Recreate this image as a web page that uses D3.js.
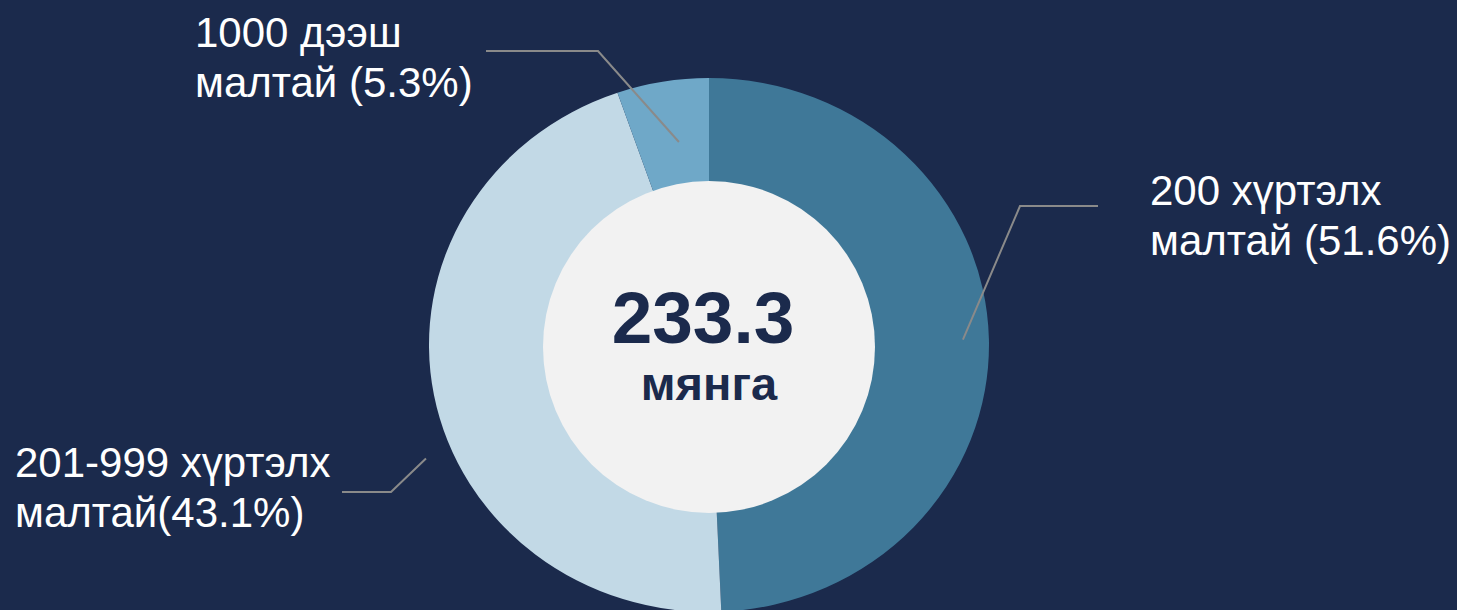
<!DOCTYPE html>
<html>
<head>
<meta charset="utf-8">
<script src="https://cdn.jsdelivr.net/npm/d3@7"></script>
<style>
  html, body { margin: 0; padding: 0; background: #1b2a4c; overflow: hidden; }
  svg { display: block; font-family: "Liberation Sans", Arial, sans-serif; }
</style>
</head>
<body>
<div id="chart"></div>
<script>
const categories = ["200 хүртэлх", "201-999 хүртэлх", "1000 дээш"];
const shares = [49.3, 45.4, 5.3];
const labelLine1 = ["200 хүртэлх", "201-999 хүртэлх", "1000 дээш"];
const labelLine2 = ["малтай (51.6%)", "малтай(43.1%)", "малтай (5.3%)"];
const totalValue = "233.3";
const totalUnit = "мянга";

const colors = ["#3f7898", "#c2d9e6", "#6fa8c8"];

const width = 1457, height = 610;
const cx = 709, cy = 345;
const rOuter = 280, squash = 267 / 280;
const rHole = 166;

// where each leader line touches the ring / bends, and where its text sits
const labelLayout = [
    {angleOffset: 0, r: 254, elbow: [1020, 206], end: 1098, tx: 1150, ty: 205},
    {angleOffset: -12, r: 307, elbow: [391, 492], end: 342, tx: 15, ty: 477},
    {angleOffset: 1.5, r: 215, elbow: [598, 51], end: 486, tx: 195, ty: 47}
];

const svg = d3.select("#chart").append("svg")
    .attr("width", width)
    .attr("height", height);

svg.append("rect")
    .attr("width", width)
    .attr("height", height)
    .attr("fill", "#1b2a4c");

const pie = d3.pie().sort(null).value(d => d);
const arcs = pie(shares);

const arc = d3.arc()
    .innerRadius(120)
    .outerRadius(rOuter);

// ring, squeezed a little vertically like the original
const ring = svg.append("g")
    .attr("transform", "translate(" + cx + "," + cy + ") scale(1," + squash + ")");

ring.selectAll("path")
    .data(arcs)
    .enter().append("path")
    .attr("d", arc)
    .attr("fill", (d, i) => colors[i]);

// centre disk
svg.append("circle")
    .attr("cx", cx)
    .attr("cy", cy + 2)
    .attr("r", rHole)
    .attr("fill", "#f2f2f2");

svg.append("text")
    .attr("x", cx - 6)
    .attr("y", 343)
    .attr("text-anchor", "middle")
    .attr("font-size", 73)
    .attr("font-weight", "bold")
    .attr("fill", "#1b2a4c")
    .text(totalValue);

svg.append("text")
    .attr("x", cx)
    .attr("y", 400)
    .attr("text-anchor", "middle")
    .attr("font-size", 47)
    .attr("font-weight", "bold")
    .attr("fill", "#1b2a4c")
    .text(totalUnit);

// leader lines and labels
arcs.forEach((d, i) => {
    const lay = labelLayout[i];
    const a = (d.startAngle + d.endAngle) / 2 + lay.angleOffset * Math.PI / 180;
    const px = cx + Math.sin(a) * lay.r;
    const py = cy - Math.cos(a) * lay.r * squash;

    svg.append("path")
        .attr("d", d3.line()([[px, py], lay.elbow, [lay.end, lay.elbow[1]]]))
        .attr("fill", "none")
        .attr("stroke", "#8a8a8a")
        .attr("stroke-width", 2);

    const t = svg.append("text")
        .attr("x", lay.tx)
        .attr("y", lay.ty)
        .attr("font-size", 42)
        .attr("fill", "#ffffff");
    t.append("tspan").attr("x", lay.tx).text(labelLine1[i]);
    t.append("tspan").attr("x", lay.tx).attr("dy", 50).text(labelLine2[i]);
});
</script>
</body>
</html>
